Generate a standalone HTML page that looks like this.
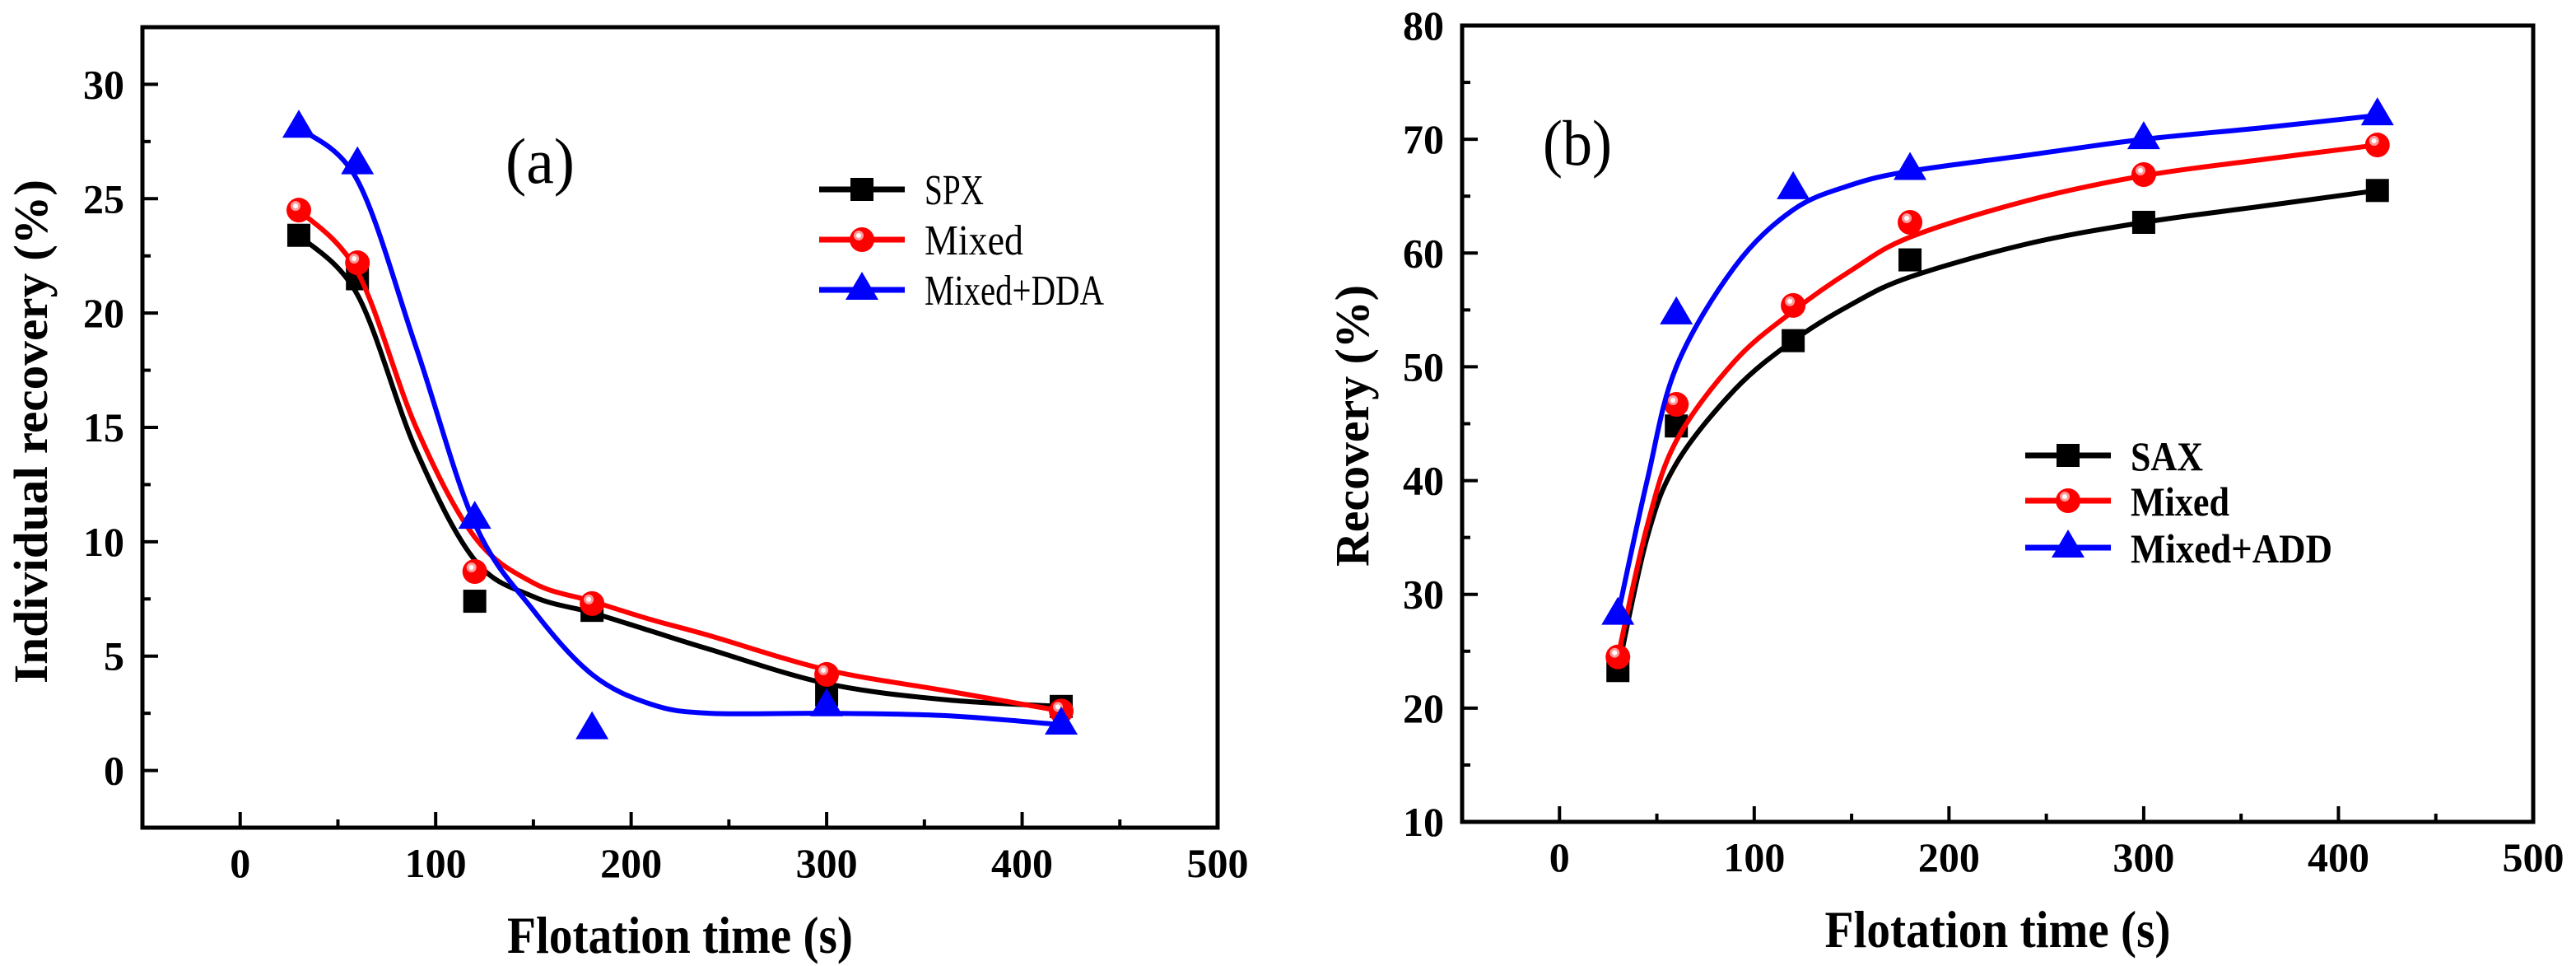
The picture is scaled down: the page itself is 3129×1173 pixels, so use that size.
<!DOCTYPE html>
<html><head><meta charset="utf-8"><style>
html,body{margin:0;padding:0;background:#fff;}
svg{display:block;}
text{font-family:"Liberation Serif",serif;}
</style></head>
<body>
<svg id="chart" width="3129" height="1173" viewBox="0 0 3129 1173" xmlns="http://www.w3.org/2000/svg">
<rect width="3129" height="1173" fill="#fff"/>
<g id="pa"></g>
<g id="pb"></g>
</svg>
<script>
// ---- data panel (a) ----
const timesA = [30, 60, 120, 180, 300, 420];
const spxA = [23.4, 21.5, 7.4, 7.0, 3.3, 2.8];
const mixedA = [24.5, 22.2, 8.7, 7.3, 4.2, 2.6];
const ddaA = [28.1, 26.5, 11.0, 1.8, 2.8, 2.0];
const fitTimesA = [30, 60, 90, 120, 150, 180, 210, 240, 300, 360, 420];
const spxFitA = [23.4, 20.8, 14.0, 9.2, 7.6, 6.9, 6.1, 5.3, 3.8, 3.1, 2.8];
const mixedFitA = [24.5, 21.8, 15.0, 10.2, 8.2, 7.4, 6.6, 5.9, 4.4, 3.5, 2.6];
const ddaFitA = [28.1, 25.8, 18.5, 10.8, 7.0, 4.2, 2.9, 2.5, 2.5, 2.4, 2.0];
const yTicksA = [0, 5, 10, 15, 20, 25, 30];
const xTicks = [0, 100, 200, 300, 400, 500];
// ---- data panel (b) ----
const timesB = [30, 60, 120, 180, 300, 420];
const saxB = [23.3, 44.8, 52.3, 59.4, 62.7, 65.5];
const mixedB = [24.5, 46.7, 55.4, 62.7, 66.9, 69.5];
const addB = [28.2, 54.6, 65.6, 67.3, 70.0, 72.1];
const fitTimesB = [30, 45, 60, 90, 120, 150, 180, 240, 300, 360, 420];
const saxFitB = [23.3, 35, 41.5, 48, 52.3, 55.5, 57.9, 60.8, 62.7, 64.1, 65.5];
const mixedFitB = [24.5, 36, 43.5, 50.5, 54.9, 58.5, 61.4, 64.6, 66.8, 68.2, 69.5];
const addFitB = [28.2, 40, 50, 58.8, 63.8, 66, 67.2, 68.6, 70.0, 71.0, 72.1];
const yTicksB = [10, 20, 30, 40, 50, 60, 70, 80];

const NS = "http://www.w3.org/2000/svg";
function mk(parent, tag, attrs, txt) {
  const e = document.createElementNS(NS, tag);
  for (const k in attrs) e.setAttribute(k, attrs[k]);
  if (txt !== undefined) e.textContent = txt;
  parent.appendChild(e);
  return e;
}
function smoothPath(pts) {
  let d = "M" + pts[0][0] + "," + pts[0][1];
  for (let i = 0; i < pts.length - 1; i++) {
    const p0 = pts[i - 1] || pts[i], p1 = pts[i], p2 = pts[i + 1], p3 = pts[i + 2] || p2;
    const c1x = p1[0] + (p2[0] - p0[0]) / 6, c1y = p1[1] + (p2[1] - p0[1]) / 6;
    const c2x = p2[0] - (p3[0] - p1[0]) / 6, c2y = p2[1] - (p3[1] - p1[1]) / 6;
    d += " C" + c1x + "," + c1y + " " + c2x + "," + c2y + " " + p2[0] + "," + p2[1];
  }
  return d;
}
function marker(g, type, cx, cy, color) {
  let m;
  if (type === "square") {
    m = mk(g, "rect", {x: cx - 14, y: cy - 14, width: 28, height: 28, fill: color});
  } else if (type === "circle") {
    m = mk(g, "g", {});
    mk(m, "circle", {cx: cx, cy: cy, r: 15, fill: color});
    mk(m, "circle", {cx: cx - 4, cy: cy - 5, r: 6, fill: "#ff9a9a"});
    mk(m, "circle", {cx: cx - 4, cy: cy - 5, r: 3, fill: "#fff"});
  } else {
    m = mk(g, "polygon", {points: (cx) + "," + (cy - 22) + " " + (cx - 20) + "," + (cy + 12) + " " + (cx + 20) + "," + (cy + 12), fill: color});
  }
  return m;
}

function panel(cfg) {
  const g = document.getElementById(cfg.id);
  const X = v => cfg.x0 + (v - cfg.xmin) / (cfg.xmax - cfg.xmin) * (cfg.x1 - cfg.x0);
  const Y = v => cfg.y1 - (v - cfg.ymin) / (cfg.ymax - cfg.ymin) * (cfg.y1 - cfg.y0);
  const ticks = mk(g, "g", {stroke: "#000", "stroke-width": 4});
  
  
  for (let v = 0; v <= 450; v += 50) {
    const len = v % 100 === 0 ? 19 : 10;
    mk(ticks, "line", {x1: X(v), x2: X(v), y1: cfg.y1, y2: cfg.y1 - len});
  }
  for (let v = cfg.yTicks[0]; v <= cfg.yTicks[cfg.yTicks.length - 1] + 1e-9; v += cfg.yStep / 2) {
    const major = Math.abs(Math.round(v / cfg.yStep) * cfg.yStep - v) < 1e-6;
    if (v <= cfg.ymin || v >= cfg.ymax) continue;
    mk(ticks, "line", {x1: cfg.x0, x2: cfg.x0 + (major ? 19 : 10), y1: Y(v), y2: Y(v)});
  }
  xTicks.forEach(v => {
    const t = mk(g, "text", {x: X(v), y: cfg.y1 + 60, "text-anchor": "middle", "font-size": 50, "font-weight": "bold"}, String(v));
    
    
  });
  cfg.yTicks.forEach(v => {
    const t = mk(g, "text", {x: cfg.x0 - 22, y: Y(v) + 17, "text-anchor": "end", "font-size": 50, "font-weight": "bold"}, String(v));
    
    
  });
  const xt = mk(g, "text", {x: (cfg.x0 + cfg.x1) / 2, y: cfg.y1 + 152, "text-anchor": "middle", "font-size": 64, "font-weight": "bold", textLength: 420, lengthAdjust: "spacingAndGlyphs"}, "Flotation time (s)");
  
  
  const yt = mk(g, "text", {x: 0, y: 0, "text-anchor": "middle", "font-size": 58, "font-weight": "bold", textLength: cfg.yTitleLen, lengthAdjust: "spacingAndGlyphs", transform: "translate(" + cfg.yTitleX + "," + cfg.yTitleY + ") rotate(-90)"}, cfg.yTitle);
  
  
  cfg.series.forEach(s => {
    const sg = mk(g, "g", {});
    
    
    const pts = s.fitX.map((t, i) => [X(t), Y(s.fit[i])]);
    mk(sg, "path", {d: smoothPath(pts), fill: "none", stroke: s.color, "stroke-width": 6});
    s.x.forEach((t, i) => {
      const m = marker(sg, s.marker, X(t), Y(s.y[i]), s.color);
      
      
    });
  });
  const fr = mk(g, "rect", {x: cfg.x0, y: cfg.y0, width: cfg.x1 - cfg.x0, height: cfg.y1 - cfg.y0, fill: "none", stroke: "#000", "stroke-width": 5});
  
  
  cfg.series.forEach((s, i) => {
    const lg = mk(g, "g", {});
    
    
    const ly = cfg.legY[i];
    mk(lg, "line", {x1: cfg.legX, x2: cfg.legX + 104, y1: ly, y2: ly, stroke: s.color, "stroke-width": 7});
    marker(lg, s.marker, cfg.legX + 52, ly, s.color);
    mk(lg, "text", {x: cfg.legX + 128, y: ly + 18, "font-size": cfg.legFont, "font-weight": cfg.legBold ? "bold" : "normal", textLength: s.labelLen, lengthAdjust: "spacingAndGlyphs"}, s.label);
  });
  const pl = mk(g, "text", {x: cfg.tagX, y: cfg.tagY, "font-size": 78, textLength: 84, lengthAdjust: "spacingAndGlyphs"}, cfg.tag);
  
  
}

panel({id: "pa", x0: 173, x1: 1479, y0: 33, y1: 1005, xmin: -50, xmax: 500, ymin: -2.5, ymax: 32.5,
  yTicks: yTicksA, yStep: 5, yTitle: "Individual recovery (%)", yTitleX: 57, yTitleY: 524, yTitleLen: 612,
  legX: 995, legY: [230, 291, 352], legFont: 52, legBold: false, tag: "(a)", tagX: 614, tagY: 222,
  series: [
    {name: "series-spx", label: "SPX", labelLen: 72, color: "#000", marker: "square", x: timesA, y: spxA, fitX: fitTimesA, fit: spxFitA},
    {name: "series-mixed", label: "Mixed", labelLen: 120, color: "#ff0000", marker: "circle", x: timesA, y: mixedA, fitX: fitTimesA, fit: mixedFitA},
    {name: "series-mixed-dda", label: "Mixed+DDA", labelLen: 218, color: "#0000ff", marker: "triangle", x: timesA, y: ddaA, fitX: fitTimesA, fit: ddaFitA}
  ]});
panel({id: "pb", x0: 1776, x1: 3077, y0: 31, y1: 998, xmin: -50, xmax: 500, ymin: 10, ymax: 80,
  yTicks: yTicksB, yStep: 10, yTitle: "Recovery (%)", yTitleX: 1662, yTitleY: 517, yTitleLen: 342,
  legX: 2460, legY: [553, 608, 665], legFont: 50, legBold: true, tag: "(b)", tagX: 1874, tagY: 200,
  series: [
    {name: "series-sax", label: "SAX", labelLen: 88, color: "#000", marker: "square", x: timesB, y: saxB, fitX: fitTimesB, fit: saxFitB},
    {name: "series-mixed", label: "Mixed", labelLen: 120, color: "#ff0000", marker: "circle", x: timesB, y: mixedB, fitX: fitTimesB, fit: mixedFitB},
    {name: "series-mixed-add", label: "Mixed+ADD", labelLen: 245, color: "#0000ff", marker: "triangle", x: timesB, y: addB, fitX: fitTimesB, fit: addFitB}
  ]});
</script>
</body></html>
